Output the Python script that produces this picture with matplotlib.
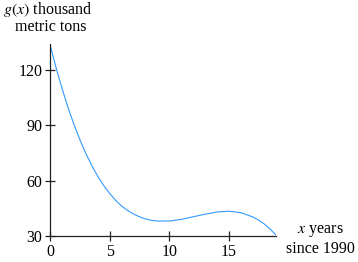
import matplotlib
matplotlib.use("Agg")
import matplotlib.pyplot as plt

plt.rcParams['font.family'] = ['Liberation Serif', 'DejaVu Serif']
plt.rcParams['mathtext.fontset'] = 'stix'

# values
x_years = [0, 0.5, 1, 1.5, 2, 2.5, 3, 3.5, 4, 4.5, 5, 5.5, 6, 6.5, 7, 7.5, 8, 8.5, 9, 10,
           11, 12, 13, 14, 15, 16, 17, 17.5, 18, 18.5, 18.94]
g_vals = [133.6, 121.2, 110.0, 99.7, 90.4, 82.1, 74.7, 68.1, 62.3, 57.3, 53.0, 49.3, 46.2,
          43.8, 41.9, 40.4, 39.2, 38.5, 38.1, 38.1, 39.0, 40.4, 41.8, 43.0, 43.4, 42.6,
          40.3, 38.5, 36.3, 33.4, 30.5]
x_ticks = [0, 5, 10, 15]
y_ticks = [30, 60, 90, 120]

fig = plt.figure(figsize=(3.58, 2.62), dpi=100)
ax = fig.add_axes([50/358, 26/262, 226/358, 192/262])
ax.plot(x_years, g_vals, color='#3399ff', lw=0.8, solid_joinstyle='round')
ax.set_xlim(0, 18.94)
ax.set_ylim(30, 133.8)
for s in ['top', 'right']:
    ax.spines[s].set_visible(False)
for s in ['left', 'bottom']:
    ax.spines[s].set_linewidth(0.9)
    ax.spines[s].set_color('#222222')
ax.set_xticks(x_ticks)
ax.set_yticks(y_ticks)
ax.tick_params(direction='inout', length=7, width=0.9, labelsize=11.5, color='#222222', pad=2)
ax.patch.set_alpha(0)

fig.text(3/358, 1 - 14/262, r'$g(x)$ thousand', fontsize=11.5, ha='left', va='baseline')
fig.text(51/358, 1 - 27/262, 'metric tons', fontsize=11.5, ha='center', va='center')
fig.text(320/358, 1 - 231/262, r'$x$ years', fontsize=11.5, ha='center', va='center')
fig.text(320/358, 1 - 249/262, 'since 1990', fontsize=11.5, ha='center', va='center')

fig.savefig('out.png', dpi=100)
